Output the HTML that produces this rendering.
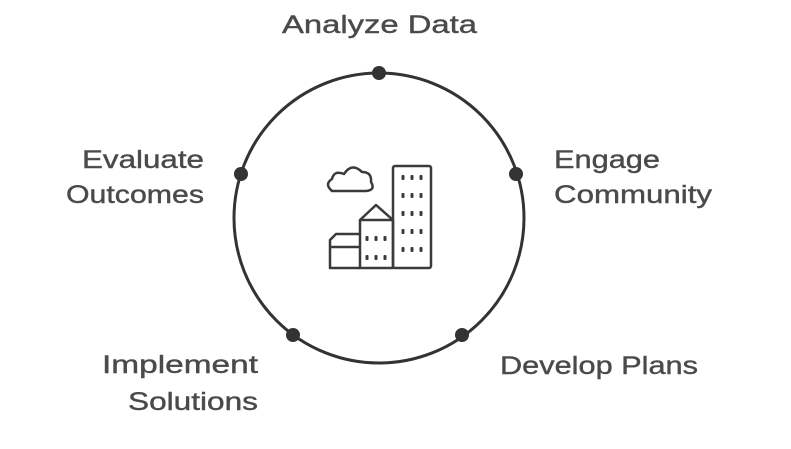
<!DOCTYPE html>
<html><head><meta charset="utf-8"><style>html,body{margin:0;padding:0;background:#fff}svg{display:block}</style></head>
<body>
<svg width="791" height="449" viewBox="0 0 791 449" xmlns="http://www.w3.org/2000/svg">
<g font-family="Liberation Sans, sans-serif" font-size="25" fill="#4a4a4a" stroke="#4a4a4a" stroke-width="0.4">
<text x="282" y="33" textLength="195" lengthAdjust="spacingAndGlyphs">Analyze Data</text>
<text x="82" y="168" textLength="122" lengthAdjust="spacingAndGlyphs">Evaluate</text>
<text x="66" y="203" textLength="138" lengthAdjust="spacingAndGlyphs">Outcomes</text>
<text x="554" y="168" textLength="106" lengthAdjust="spacingAndGlyphs">Engage</text>
<text x="554" y="203" textLength="158" lengthAdjust="spacingAndGlyphs">Community</text>
<text x="500" y="374" textLength="198" lengthAdjust="spacingAndGlyphs">Develop Plans</text>
<text x="102" y="373" textLength="156" lengthAdjust="spacingAndGlyphs">Implement</text>
<text x="128" y="410" textLength="130" lengthAdjust="spacingAndGlyphs">Solutions</text>
</g>
<circle cx="379" cy="218" r="145" fill="none" stroke="#333" stroke-width="3"/>
<g fill="#333">
<circle cx="379" cy="73" r="7"/>
<circle cx="516" cy="174" r="7"/>
<circle cx="462" cy="335" r="7"/>
<circle cx="293" cy="335" r="7"/>
<circle cx="241" cy="174" r="7"/>
</g>
<g fill="none" stroke="#3a3a3a" stroke-width="2.5" stroke-linejoin="round">
<path d="M332 191 Q324 184 332 179 Q334 170 344 174 Q352 162 362 172 Q372 172 371 182 Q376 190 366 191 Z"/>
<rect x="393" y="166" width="38" height="102" rx="2"/>
<rect x="360" y="220" width="33" height="48"/>
<path d="M360 220 L376 205 L393 220"/>
<path d="M330 247 L330 268 L360 268 M330 247 L360 247 M330 247 L330 240 L336 234 L360 234"/>
</g>
<g fill="#3a3a3a">
<g id="r"><rect x="401.5" y="175" width="3" height="5" rx="1"/><rect x="410.5" y="175" width="3" height="5" rx="1"/><rect x="419.5" y="175" width="3" height="5" rx="1"/></g>
<use href="#r" y="18"/><use href="#r" y="36"/><use href="#r" y="54"/><use href="#r" y="72"/>
<g id="m"><rect x="365.5" y="236" width="3" height="5" rx="1"/><rect x="374.5" y="236" width="3" height="5" rx="1"/><rect x="383.5" y="236" width="3" height="5" rx="1"/></g>
<use href="#m" y="19"/>
</g>
</svg>
</body></html>
